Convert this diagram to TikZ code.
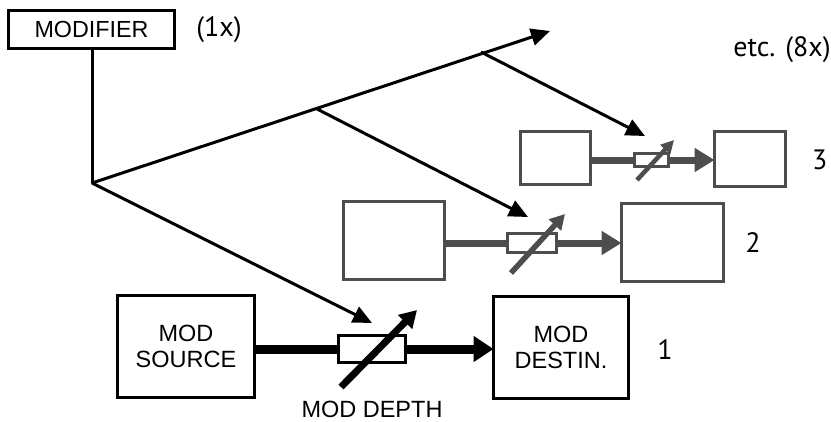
\documentclass[tikz,border=0pt]{standalone}
\usepackage{fontspec}
\setmainfont{Liberation Sans}
\newfontfamily\myr{PT Sans}
\usetikzlibrary{arrows.meta}
\definecolor{gr}{HTML}{4D4D4D}
\tikzset{
  box/.style={draw, line width=3.5pt, inner sep=0pt, outer sep=0pt, align=center, font=\fontsize{23.5}{26}\selectfont},
  res/.style={draw, fill=white, inner sep=0pt, outer sep=0pt},
  modline/.style={line width=3pt, line cap=round},
  modarrow/.style={line width=3pt, -{Triangle[length=19pt,width=17pt]}},
  lbl/.style={font=\myr\fontsize{28}{30}\selectfont, inner sep=0pt}
}
\begin{document}
\begin{tikzpicture}[x=1pt,y=-1pt]
\useasboundingbox (0,0) rectangle (831,421);
% modifier
\node[box, line width=3pt, minimum width=166pt, minimum height=38pt, font=\fontsize{23.3}{25}\selectfont] (mod) at (91.5,29.5) {MODIFIER};
\node[lbl] (onex) at (219,30) {(1x)};
\node[lbl] (etc) at (782,50) {etc. (8x)};
\coordinate (j0) at (92,183);
\coordinate (j1) at (317,109);
\coordinate (j2) at (481,52);
\coordinate (jt) at (550,31);
\draw[modline] (mod.south -| j0) -- (j0);
\draw[modarrow] (j0) -- (jt);
% row 1
\node[box, minimum width=137pt, minimum height=102pt] (src1) at (186,346.5) {MOD\\SOURCE};
\node[box, minimum width=135pt, minimum height=102pt] (dst1) at (561,347.5) {MOD\\DESTIN.};
\node[res, line width=3.5pt, minimum width=67pt, minimum height=27pt] (r1) at (372,349) {};
\draw[line width=9pt] (src1.east |- r1) -- (r1.west);
\draw[line width=9pt, -{Triangle[length=20pt,width=25pt]}] (r1.east) -- (dst1.west |- r1);
\coordinate (d1a) at (341,387);
\coordinate (d1b) at (417,310);
\draw[line width=7pt, -{Triangle[length=17pt,width=19pt]}] (d1a) -- (d1b);
\node[font=\fontsize{23.5}{26}\selectfont, inner sep=0pt] (depth) at (372,409) {MOD DEPTH};
\node[lbl] (n1) at (665,350) {1};
\draw[modarrow] (j0) -- (372,323) coordinate (t1);
% row 2
\begin{scope}[draw=gr, color=gr]
\node[box, draw=gr, line width=3pt, minimum width=101pt, minimum height=78pt] (src2) at (394,240.5) {};
\node[box, draw=gr, line width=3pt, minimum width=102pt, minimum height=78pt] (dst2) at (672.5,242.5) {};
\node[res, draw=gr, line width=3pt, minimum width=49pt, minimum height=19pt] (r2) at (532,243) {};
\draw[gr, line width=7pt] (src2.east |- r2) -- (r2.west);
\draw[gr, line width=7pt, -{Triangle[length=20pt,width=23pt]}] (r2.east) -- (dst2.west |- r2);
\coordinate (d2a) at (511,273);
\coordinate (d2b) at (565,214);
\draw[gr, line width=5.5pt, -{Triangle[length=15pt,width=16pt]}] (d2a) -- (d2b);
% row 3
\node[box, draw=gr, line width=3pt, minimum width=70pt, minimum height=53pt] (src3) at (555.5,158) {};
\node[box, draw=gr, line width=3pt, minimum width=71pt, minimum height=55pt] (dst3) at (750,159) {};
\node[res, draw=gr, line width=3pt, minimum width=34pt, minimum height=13pt] (r3) at (651.5,160) {};
\draw[gr, line width=7pt] (src3.east |- r3) -- (r3.west);
\draw[gr, line width=7pt, -{Triangle[length=20pt,width=23pt]}] (r3.east) -- (dst3.west |- r3);
\coordinate (d3a) at (637,180);
\coordinate (d3b) at (674,140);
\draw[gr, line width=4.5pt, -{Triangle[length=13pt,width=13pt]}] (d3a) -- (d3b);
\end{scope}
\node[lbl] (n2) at (753,243) {2};
\node[lbl, anchor=west] (n3) at (812,160) {3};
\draw[modarrow] (j1) -- (528,217) coordinate (t2);
\draw[modarrow] (j2) -- (645,136) coordinate (t3);
\end{tikzpicture}
\end{document}
